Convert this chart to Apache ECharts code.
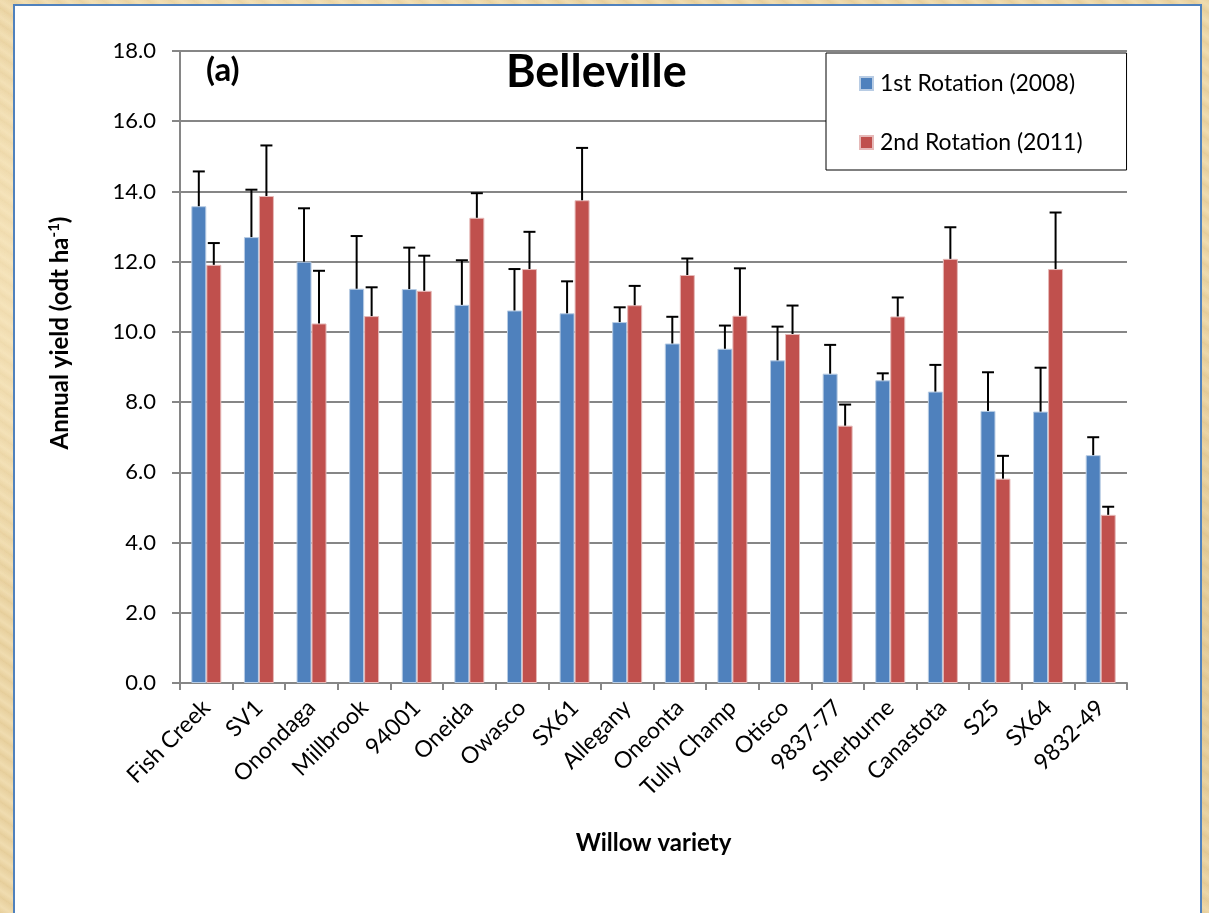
<!DOCTYPE html>
<html>
<head>
<meta charset="utf-8">
<script src="https://cdn.jsdelivr.net/npm/echarts@6/dist/echarts.min.js"></script>
<style>
  html, body { margin: 0; padding: 0; width: 1209px; height: 913px; overflow: hidden; }
  body {
    background-color: #ecd6a6;
    background-image:
      radial-gradient(ellipse at 20% 30%, rgba(255,240,205,0.7) 0%, rgba(255,240,205,0) 40%),
      radial-gradient(ellipse at 80% 70%, rgba(210,180,120,0.5) 0%, rgba(210,180,120,0) 45%),
      repeating-linear-gradient(35deg, rgba(200,165,100,0.18) 0px, rgba(255,245,215,0.2) 6px, rgba(200,165,100,0.12) 13px);
  }
  #panel {
    position: absolute; left: 13px; top: 4px; width: 1185px; height: 960px;
    background: #ffffff; border: 2px solid #4f81bd;
  }
  #chart { position: absolute; left: 0; top: 0; width: 1209px; height: 913px; }
</style>
</head>
<body>
<div id="panel"></div>
<div id="chart"></div>
<script>
const categories = ['Fish Creek','SV1','Onondaga','Millbrook','94001','Oneida','Owasco','SX61','Allegany','Oneonta','Tully Champ','Otisco','9837-77','Sherburne','Canastota','S25','SX64','9832-49'];
const rotation1 = [13.58, 12.70, 12.00, 11.23, 11.22, 10.77, 10.61, 10.53, 10.28, 9.67, 9.52, 9.19, 8.81, 8.62, 8.30, 7.75, 7.73, 6.49];
const rotation1Err = [0.99, 1.35, 1.52, 1.50, 1.18, 1.27, 1.18, 0.91, 0.42, 0.76, 0.66, 0.96, 0.82, 0.20, 0.76, 1.10, 1.25, 0.51];
const rotation2 = [11.91, 13.87, 10.24, 10.45, 11.17, 13.25, 11.79, 13.75, 10.76, 11.62, 10.46, 9.94, 7.33, 10.44, 12.08, 5.82, 11.79, 4.79];
const rotation2Err = [0.62, 1.44, 1.50, 0.82, 1.00, 0.70, 1.06, 1.49, 0.55, 0.47, 1.35, 0.81, 0.60, 0.54, 0.90, 0.65, 1.61, 0.23];
const seriesNames = ['1st Rotation (2008)', '2nd Rotation (2011)'];
const yTicks = { min: 0, max: 18, interval: 2 };

const FONT = 'Lato, "Open Sans", sans-serif';
const CAT_GAP = 0.43;

function errData(vals, errs) {
  return vals.map((v, i) => [i, v, v + errs[i]]);
}
function errRender(side) {
  return function (params, api) {
    const i = api.value(0);
    const base = api.coord([i, api.value(1)]);
    const top = api.coord([i, api.value(2)]);
    const band = api.size([1, 0])[0];
    const bw = band * (1 - CAT_GAP) / 2;
    const x = base[0] + side * bw / 2;
    const cap = 6;
    const style = { stroke: '#000', lineWidth: 2 };
    return {
      type: 'group',
      children: [
        { type: 'line', shape: { x1: x, y1: base[1], x2: x, y2: top[1] }, style },
        { type: 'line', shape: { x1: x - cap, y1: top[1], x2: x + cap, y2: top[1] }, style }
      ]
    };
  };
}

const chart = echarts.init(document.getElementById('chart'), null, { renderer: 'canvas' });
chart.setOption({
  backgroundColor: 'transparent',
  animation: false,
  textStyle: { fontFamily: FONT },
  grid: { left: 180, right: 82, top: 51, bottom: 230, containLabel: false },
  legend: {
    orient: 'vertical',
    left: 826, top: 53,
    padding: [19, 44, 16, 33],
    itemGap: 36,
    itemWidth: 13, itemHeight: 13,
    icon: 'rect',
    borderColor: '#000', borderWidth: 1,
    backgroundColor: '#fff',
    textStyle: { fontSize: 23, color: '#000', fontFamily: FONT, padding: [0, 0, 0, 2] },
    data: seriesNames
  },
  graphic: [
    { type: 'text', left: 506, top: 50, style: { text: 'Belleville', font: 'bold 45px ' + FONT, fill: '#000' } },
    { type: 'text', left: 206, top: 54, style: { text: '(a)', font: 'bold 33px ' + FONT, fill: '#000' } },
    {
      type: 'text', x: 60, y: 333, rotation: Math.PI / 2,
      style: {
        text: '{a|Annual yield (odt ha}{s|-1}{a|)}',
        align: 'center', verticalAlign: 'middle',
        rich: {
          a: { fontSize: 24, fontWeight: 'bold', fill: '#000', fontFamily: FONT },
          s: { fontSize: 15, fontWeight: 'bold', fill: '#000', fontFamily: FONT, verticalAlign: 'top', padding: [0, 0, 12, 0] }
        }
      }
    }
  ],
  xAxis: {
    type: 'category',
    data: categories,
    boundaryGap: true,
    axisLine: { lineStyle: { color: '#868686', width: 2 } },
    axisTick: { show: true, length: 7, lineStyle: { color: '#868686', width: 2 } },
    axisLabel: { rotate: 45, fontSize: 23, color: '#000', margin: 21, interval: 0, fontFamily: FONT },
    name: 'Willow variety',
    nameLocation: 'middle',
    nameGap: 148,
    nameTextStyle: { fontSize: 24, fontWeight: 'bold', color: '#000', fontFamily: FONT }
  },
  yAxis: {
    type: 'value',
    min: yTicks.min, max: yTicks.max, interval: yTicks.interval,
    axisLine: { show: true, lineStyle: { color: '#868686', width: 2 } },
    axisTick: { show: true, length: 8, lineStyle: { color: '#868686', width: 2 } },
    splitLine: { lineStyle: { color: '#868686', width: 2 } },
    axisLabel: { fontSize: 22, color: '#000', margin: 24, formatter: v => v.toFixed(1), fontFamily: FONT }
  },
  series: [
    {
      name: seriesNames[0], type: 'bar', data: rotation1,
      barGap: '0%', barCategoryGap: (CAT_GAP * 100) + '%',
      itemStyle: { color: '#4f81bd', borderColor: '#b8cce4', borderWidth: 1 }
    },
    {
      name: seriesNames[1], type: 'bar', data: rotation2,
      barGap: '0%', barCategoryGap: (CAT_GAP * 100) + '%',
      itemStyle: { color: '#c0504d', borderColor: '#e6b9b8', borderWidth: 1 }
    },
    {
      type: 'custom', name: 'err1', data: errData(rotation1, rotation1Err),
      renderItem: errRender(-1), encode: { x: 0, y: [1, 2] }, z: 5
    },
    {
      type: 'custom', name: 'err2', data: errData(rotation2, rotation2Err),
      renderItem: errRender(1), encode: { x: 0, y: [1, 2] }, z: 5
    }
  ]
});
</script>
</body>
</html>
